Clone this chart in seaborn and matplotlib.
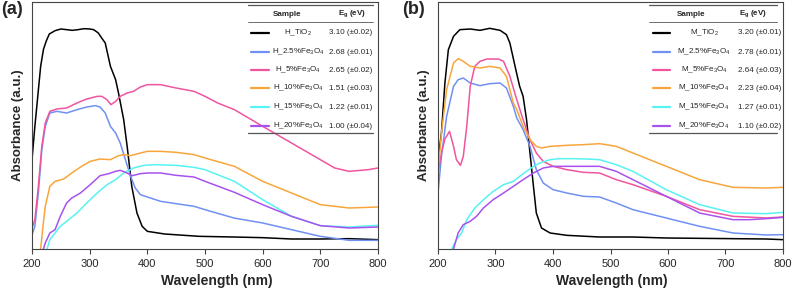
import numpy as np
import pandas as pd
import seaborn as sns
import matplotlib
matplotlib.use("Agg")
import matplotlib.pyplot as plt

sns.set_theme(style="white")
plt.rcParams['font.family'] = ['Liberation Sans', 'DejaVu Sans']
plt.rcParams['mathtext.fontset'] = 'custom'
plt.rcParams['mathtext.rm'] = 'Liberation Sans'

# ---------------- Data (arbitrary absorbance units) -------------
# Panel (a)
a_tio2_x = [200, 205, 210, 215, 220, 225, 230, 240, 250, 260, 270, 280, 290, 300, 307, 315, 320, 327, 336, 345, 350, 359, 365, 373, 382, 391, 400, 430, 490, 550, 600, 650, 700, 750, 800]
a_tio2_y = [268, 368, 458, 548, 600, 625, 645, 655, 660, 658, 656, 658, 661, 660, 658, 648, 635, 618, 548, 508, 468, 388, 308, 188, 108, 68, 53, 45, 38, 36, 34, 30, 30, 31, 28]
a_25_x = [200, 205, 211, 217, 223, 231, 243, 260, 278, 295, 310, 318, 327, 336, 345, 353, 362, 371, 379, 388, 400, 423, 450, 481, 500, 550, 600, 650, 700, 750, 800]
a_25_y = [43, 68, 168, 298, 368, 408, 413, 408, 418, 426, 430, 426, 408, 368, 348, 318, 268, 218, 183, 163, 156, 143, 136, 128, 118, 93, 78, 58, 38, 26, 26]
a_5_x = [200, 205, 211, 217, 223, 231, 243, 260, 278, 295, 313, 321, 330, 337, 345, 353, 365, 376, 388, 400, 423, 450, 481, 500, 522, 551, 600, 650, 700, 725, 750, 783, 800]
a_5_y = [63, 88, 188, 308, 378, 413, 420, 423, 438, 450, 458, 458, 448, 433, 443, 458, 468, 473, 486, 493, 493, 483, 473, 458, 438, 418, 368, 318, 268, 243, 233, 238, 243]
a_10_x = [213, 215, 219, 223, 231, 240, 255, 269, 286, 301, 318, 336, 350, 359, 371, 388, 400, 423, 450, 481, 500, 551, 600, 650, 700, 750, 800]
a_10_y = [-20, 0, 68, 128, 188, 203, 210, 228, 248, 263, 270, 268, 280, 283, 280, 288, 293, 293, 290, 283, 273, 248, 203, 168, 133, 123, 126]
a_15_x = [222, 226, 231, 240, 249, 260, 278, 295, 313, 330, 345, 359, 376, 394, 411, 450, 481, 500, 551, 600, 650, 700, 750, 800]
a_15_y = [-20, 0, 28, 48, 68, 83, 108, 138, 168, 193, 208, 228, 243, 251, 253, 251, 245, 238, 203, 148, 98, 70, 66, 71]
a_20_x = [218, 223, 231, 240, 249, 260, 269, 284, 301, 318, 333, 345, 353, 362, 374, 388, 400, 423, 450, 481, 500, 551, 600, 650, 700, 750, 800]
a_20_y = [-10, 18, 48, 58, 98, 138, 153, 168, 193, 220, 226, 233, 236, 230, 220, 226, 228, 228, 221, 216, 203, 170, 133, 98, 70, 63, 66]

# Panel (b)
b_tio2_x = [200, 206, 212, 218, 227, 238, 256, 273, 290, 308, 319, 325, 334, 342, 348, 354, 360, 366, 371, 380, 395, 424, 481, 539, 597, 655, 713, 771, 800]
b_tio2_y = [268, 348, 498, 598, 638, 658, 660, 656, 662, 656, 643, 618, 548, 488, 458, 388, 288, 188, 108, 63, 48, 41, 36, 36, 33, 32, 31, 30, 28]
b_25_x = [200, 206, 215, 227, 235, 244, 256, 273, 290, 308, 319, 331, 337, 348, 360, 371, 383, 400, 424, 453, 481, 510, 539, 597, 655, 713, 771, 800]
b_25_y = [168, 278, 398, 488, 508, 513, 498, 490, 496, 498, 483, 428, 393, 358, 308, 238, 198, 178, 168, 158, 156, 138, 118, 93, 68, 48, 42, 43]
b_5_x = [200, 206, 212, 220, 227, 232, 239, 244, 250, 256, 264, 273, 285, 305, 314, 325, 337, 348, 360, 371, 383, 400, 424, 453, 481, 510, 539, 597, 655, 713, 771, 800]
b_5_y = [228, 288, 330, 353, 308, 268, 251, 278, 368, 488, 548, 563, 570, 570, 563, 518, 448, 388, 328, 288, 263, 248, 238, 230, 228, 208, 193, 158, 118, 98, 93, 96]
b_10_x = [200, 206, 215, 227, 235, 244, 256, 273, 290, 308, 319, 331, 337, 348, 360, 371, 380, 395, 424, 453, 481, 510, 539, 597, 655, 713, 771, 800]
b_10_y = [228, 348, 478, 558, 571, 563, 548, 543, 548, 543, 518, 438, 418, 368, 328, 308, 303, 308, 311, 313, 316, 308, 288, 248, 208, 185, 183, 185]
b_15_x = [218, 224, 232, 241, 250, 264, 279, 296, 314, 331, 342, 354, 366, 377, 395, 412, 435, 458, 481, 510, 539, 597, 655, 713, 771, 800]
b_15_y = [-30, 0, 28, 48, 88, 123, 148, 173, 193, 203, 218, 233, 248, 258, 268, 271, 271, 270, 268, 253, 233, 178, 133, 108, 106, 110]
b_20_x = [222, 227, 235, 244, 256, 267, 279, 296, 314, 331, 348, 366, 383, 400, 424, 458, 481, 510, 539, 597, 655, 713, 742, 771, 800]
b_20_y = [-30, 0, 48, 73, 83, 98, 123, 148, 168, 188, 208, 228, 243, 248, 248, 248, 248, 233, 208, 158, 108, 88, 88, 91, 95]

a_samples = ["H_TiO$_\\mathregular{2}$", "H_2.5%Fe$_\\mathregular{3}$O$_\\mathregular{4}$", "H_5%Fe$_\\mathregular{3}$O$_\\mathregular{4}$",
             "H_10%Fe$_\\mathregular{3}$O$_\\mathregular{4}$", "H_15%Fe$_\\mathregular{3}$O$_\\mathregular{4}$", "H_20%Fe$_\\mathregular{3}$O$_\\mathregular{4}$"]
b_samples = ["M_TiO$_\\mathregular{2}$", "M_2.5%Fe$_\\mathregular{3}$O$_\\mathregular{4}$", "M_5%Fe$_\\mathregular{3}$O$_\\mathregular{4}$",
             "M_10%Fe$_\\mathregular{3}$O$_\\mathregular{4}$", "M_15%Fe$_\\mathregular{3}$O$_\\mathregular{4}$", "M_20%Fe$_\\mathregular{3}$O$_\\mathregular{4}$"]
a_eg = ["3.10 (±0.02)", "2.68 (±0.01)", "2.65 (±0.02)", "1.51 (±0.03)", "1.22 (±0.01)", "1.00 (±0.04)"]
b_eg = ["3.20 (±0.01)", "2.78 (±0.01)", "2.64 (±0.03)", "2.23 (±0.04)", "1.27 (±0.01)", "1.10 (±0.02)"]
colors = ["#000000", "#7090F2", "#F0559E", "#F8A63C", "#58F2F2", "#A852EE"]
xticks = [200, 300, 400, 500, 600, 700, 800]

a_series = [(a_tio2_x, a_tio2_y), (a_25_x, a_25_y), (a_5_x, a_5_y), (a_10_x, a_10_y), (a_15_x, a_15_y), (a_20_x, a_20_y)]
b_series = [(b_tio2_x, b_tio2_y), (b_25_x, b_25_y), (b_5_x, b_5_y), (b_10_x, b_10_y), (b_15_x, b_15_y), (b_20_x, b_20_y)]


def build_df(series, names):
    frames = []
    for (x, y), n in zip(series, names):
        frames.append(pd.DataFrame({"wl": x, "abs": y, "sample": n}))
    return pd.concat(frames, ignore_index=True)


W, H = 792, 294
fig = plt.figure(figsize=(W / 100, H / 100), dpi=100)


def fx(px):
    return px / W


def fy(py):
    return 1 - py / H


def panel(left_px, right_px, series, names, egs, label, table, xlab_x):
    ax = fig.add_axes([fx(left_px), fy(249), fx(right_px - left_px), (249 - 2) / H])
    df = build_df(series, names)
    sns.lineplot(data=df, x="wl", y="abs", hue="sample", palette=dict(zip(names, colors)),
                 ax=ax, legend=False, linewidth=1.1, sort=False, estimator=None)
    ax.set_xlim(200, 800)
    ax.set_ylim(0, 741)
    ax.set_xticks(xticks)
    ax.set_yticks([])
    ax.tick_params(axis='x', direction='out', length=3.5, width=0.8, color='#444444',
                   labelsize=8, pad=4, bottom=True)
    for s in ax.spines.values():
        s.set_color('#444444')
        s.set_linewidth(0.8)
    ax.set_xlabel("Wavelength (nm)", fontsize=10, fontweight='bold', labelpad=4)
    ax.xaxis.set_label_coords((xlab_x - left_px) / (right_px - left_px), -0.13)
    ax.xaxis.label.set_va('center')
    ax.set_ylabel("Absorbance (a.u.)", fontsize=9.5, fontweight='bold', labelpad=6)

    # table-style legend
    x0, x1, s0, s1, cs, ce, hs, he = table
    tr = fig.transFigure
    for yy, lw in [(5, 0.9), (22, 0.6), (133, 0.9)]:
        fig.add_artist(plt.Line2D([fx(x0), fx(x1)], [fy(yy), fy(yy)], transform=tr,
                                  color='#555555', linewidth=lw))
    fig.text(fx(hs), fy(14), "Sample", fontsize=5.8, fontweight='bold', ha='center', va='center')
    fig.text(fx(he), fy(14), "E$_\\mathregular{g}$ (eV)", fontsize=5.8, fontweight='bold',
             ha='center', va='center')
    rows = [33, 52, 70, 88, 107, 126]
    for r, n, e, c in zip(rows, names, egs, colors):
        fig.add_artist(plt.Line2D([fx(s0), fx(s1)], [fy(r), fy(r)], transform=tr,
                                  color=c, linewidth=1.6))
        fig.text(fx(cs), fy(r), n, fontsize=5.8, ha='center', va='center')
        fig.text(fx(ce), fy(r), e, fontsize=5.8, ha='center', va='center')
    fig.text(fx(label[0]), fy(label[1]), label[2], fontsize=13, fontweight='bold',
             ha='left', va='center')
    return ax


panel(32, 378, a_series, a_samples, a_eg, (1, 10, "(a)"),
      (248, 373, 251, 269, 298, 351, 287, 352), 217)
panel(438, 783, b_series, b_samples, b_eg, (402, 10, "(b)"),
      (649, 777, 653, 670, 704, 760, 691, 753), 612)

fig.savefig("out.png", dpi=100)
